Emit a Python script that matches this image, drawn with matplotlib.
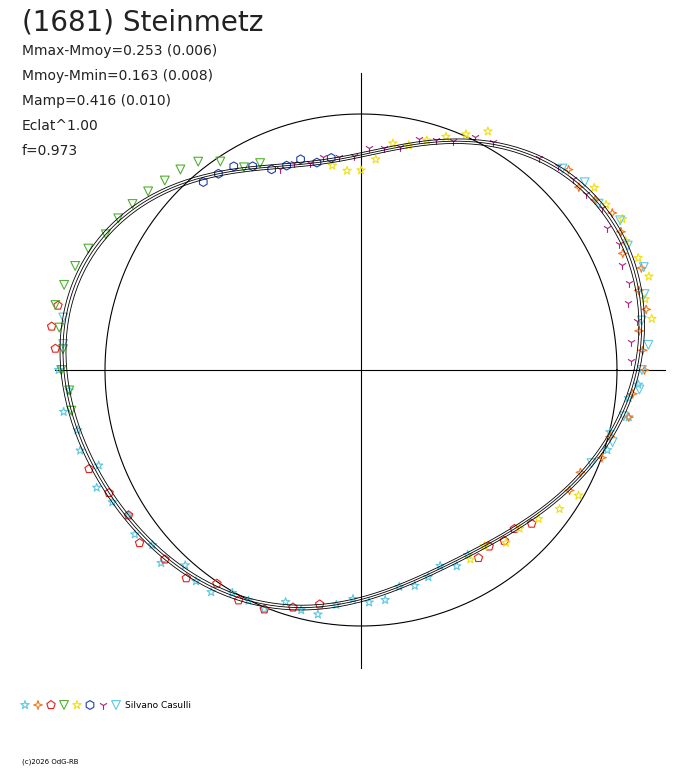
import numpy as np
import matplotlib.pyplot as plt
from matplotlib.path import Path

# shape of the light curve: angle (deg) -> radius (units of circle radius)
curve_ang = [0, 27, 53, 90, 107, 124, 139, 158, 180, 203, 225, 244, 270, 295, 325, 347]
curve_r = [1.065, 1.16, 1.04, 0.88, 0.80, 0.92, 1.09, 1.13, 1.16, 1.11, 1.05, 1.00, 0.90, 0.83, 0.91, 1.02]

# observations per session: angles (deg) and offsets from the curve
s_cyan_star_a = [180, 184, 188, 192, 196, 200, 204, 208, 212, 216, 220, 224, 228, 232, 236, 240, 244, 248, 252, 256,
                 260, 264, 268, 272, 276, 280, 284, 288, 292, 296, 300, 342, 346, 350, 354, 357]
s_cyan_star_d = [0.02, -0.01, 0.03, 0.0, 0.02, -0.02, 0.03, 0.01, -0.01, 0.02, 0.0, 0.03, -0.02, 0.01, 0.02, -0.01,
                 0.0, 0.02, -0.02, 0.01, 0.03, 0.0, -0.01, 0.02, 0.03, 0.0, 0.02, 0.01, -0.01, 0.02, 0.0, 0.02, -0.01, 0.03, 0.0, 0.02]
s_orange_a = [0, 4, 8, 12, 16, 20, 24, 28, 32, 36, 40, 44, 330, 335, 340, 345, 350, 355]
s_orange_d = [0.03, 0.01, -0.01, 0.02, 0.0, 0.03, -0.02, 0.01, 0.02, 0.0, -0.01, 0.02, 0.01, -0.01, 0.02, 0.0, 0.03, 0.01]
s_red_a = [168, 172, 176, 200, 206, 212, 218, 224, 230, 236, 242, 248, 254, 260, 302, 306, 310, 314, 318]
s_red_d = [0.04, 0.05, 0.03, 0.02, 0.0, -0.01, 0.03, 0.01, 0.02, -0.02, 0.01, 0.02, 0.0, -0.01, 0.03, 0.01, 0.02, 0.0, 0.02]
s_green_a = [116, 120, 124, 128, 132, 136, 140, 144, 148, 152, 156, 160, 164, 168, 172, 176, 180, 184, 188]
s_green_d = [0.02, 0.01, 0.05, 0.07, 0.06, 0.04, 0.03, 0.02, 0.01, 0.0, 0.02, 0.03, 0.04, 0.05, 0.02, 0.0, 0.01, -0.01, 0.0]
s_yellow_a = [62, 66, 70, 74, 78, 82, 86, 90, 94, 98, 10, 14, 18, 22, 26, 30, 34, 38, 300, 305, 310, 315, 320, 325, 330]
s_yellow_d = [0.05, 0.03, 0.02, 0.01, 0.0, 0.02, -0.03, -0.06, -0.05, -0.02, 0.04, 0.02, 0.05, 0.03, 0.01, 0.04,
              0.02, 0.03, 0.02, 0.0, 0.03, 0.01, 0.02, 0.04, 0.05]
s_blue_a = [98, 102, 106, 110, 114, 118, 122, 126, 130]
s_blue_d = [0.01, 0.0, 0.02, 0.0, -0.01, 0.01, 0.02, 0.0, -0.02]
s_magenta_a = [60, 64, 68, 72, 76, 80, 84, 88, 92, 96, 100, 104, 108, 112, 2, 6, 10, 14, 18, 22, 26, 30, 34, 38, 42, 46, 50]
s_magenta_d = [0.01, 0.02, 0.0, 0.01, 0.02, 0.0, 0.01, 0.02, 0.0, 0.01, 0.02, 0.0, 0.01, -0.01,
               -0.03, -0.04, -0.02, -0.05, -0.03, -0.04, -0.02, -0.03, 0.0, -0.01, 0.0, 0.01, 0.0]
s_cyantri_a = [0, 5, 10, 15, 20, 25, 30, 35, 40, 45, 338, 344, 350, 356, 170, 175]
s_cyantri_d = [0.02, 0.03, 0.0, 0.02, 0.04, 0.01, 0.03, 0.0, 0.02, 0.01, 0.0, 0.02, 0.01, 0.03, 0.01, 0.0]

colors = ['#5bc8e0', '#f07820', '#e8201c', '#50b030', '#f0e010', '#2040b0', '#b02080', '#60c8e0']

star4 = Path([(0, 1), (0.25, 0.25), (1, 0), (0.25, -0.25), (0, -1), (-0.25, -0.25), (-1, 0), (-0.25, 0.25), (0, 1)])
markers = ['*', star4, 'p', 'v', '*', 'h', '1', 'v']

# smooth curve through the read-off anchors (least-squares Fourier series)
ca = np.radians(curve_ang)
nh = 4
A = np.column_stack([np.ones_like(ca)] + [f(k * ca) for k in range(1, nh + 1) for f in (np.cos, np.sin)])
coef, *_ = np.linalg.lstsq(A, np.array(curve_r), rcond=None)


def model(a):
    a = np.asarray(a, float)
    cols = [np.ones_like(a)] + [f(k * a) for k in range(1, nh + 1) for f in (np.cos, np.sin)]
    return np.column_stack(cols) @ coef


fig = plt.figure(figsize=(6.88, 7.68), dpi=100)
ax = fig.add_axes([0, 0, 1, 1])
ax.set_xlim(-361 / 256, (688 - 361) / 256)
ax.set_ylim(-(768 - 370) / 256, 370 / 256)
ax.axis('off')

t = np.linspace(0, 2 * np.pi, 400)
ax.plot(np.cos(t), np.sin(t), color='black', lw=0.8)
ax.plot([-306 / 256, 304 / 256], [0, 0], color='black', lw=0.8)
ax.plot([0, 0], [-298 / 256, 297 / 256], color='black', lw=0.8)

series = [(s_cyan_star_a, s_cyan_star_d), (s_orange_a, s_orange_d), (s_red_a, s_red_d), (s_green_a, s_green_d),
          (s_yellow_a, s_yellow_d), (s_blue_a, s_blue_d), (s_magenta_a, s_magenta_d), (s_cyantri_a, s_cyantri_d)]
for (a, d), c, m in zip(series, colors, markers):
    ar = np.radians(a)
    r = model(ar) + np.array(d)
    ax.scatter(r * np.cos(ar), r * np.sin(ar), s=40, marker=m, facecolors='none' if m != '1' else c,
               edgecolors=c, linewidths=0.8, zorder=3)

rm = model(t)
for k in (0.99, 1.0, 1.01):
    ax.plot(k * rm * np.cos(t), k * rm * np.sin(t), color='black', lw=0.6, zorder=4)

fig.text(22 / 688, 1 - 22 / 768, '(1681) Steinmetz', fontsize=20, va='center', color='#222222')
info = ['Mmax-Mmoy=0.253 (0.006)', 'Mmoy-Mmin=0.163 (0.008)', 'Mamp=0.416 (0.010)', 'Eclat^1.00', 'f=0.973']
for i, s in enumerate(info):
    fig.text(22 / 688, 1 - (51 + 25 * i) / 768, s, fontsize=10, va='center', color='#222222')

for i, (c, m) in enumerate(zip(colors, markers)):
    x = (25 + 13 * i - 361) / 256
    y = (370 - 705) / 256
    ax.scatter([x], [y], s=40, marker=m, facecolors='none' if m != '1' else c, edgecolors=c, linewidths=0.8)
fig.text(125 / 688, 1 - 705 / 768, 'Silvano Casulli', fontsize=6.5, va='center')
fig.text(22 / 688, 1 - 762 / 768, '(c)2026 OdG-RB', fontsize=5, va='center')

fig.savefig('out.png', dpi=100)
